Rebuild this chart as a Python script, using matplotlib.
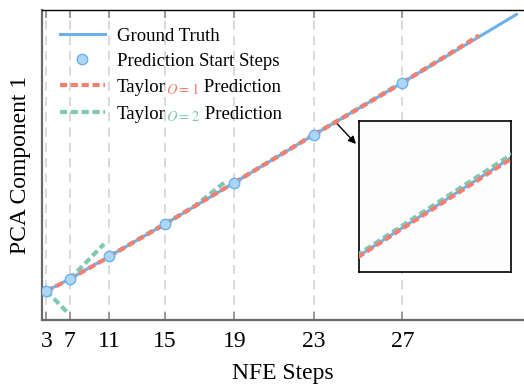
import matplotlib
matplotlib.use("Agg")
import matplotlib.pyplot as plt
from matplotlib.lines import Line2D
from matplotlib.offsetbox import HPacker, TextArea

plt.rcParams["font.family"] = ["Liberation Serif", "DejaVu Serif"]
plt.rcParams["mathtext.fontset"] = "stix"

# NFE steps where a prediction starts
steps = [3, 7, 11, 15, 19, 23, 27]

# ground-truth trajectory in PCA space (last point = end of sampling)
gt_pc0 = [0.43, 2.77, 6.73, 12.30, 19.23, 27.20, 36.03, 47.47]
gt_pc1 = [2.90, 4.10, 6.37, 9.60, 13.73, 18.53, 23.73, 30.57]

# Taylor order 1: predicted end point for each start step
o1_end_pc0 = [2.80, 6.75, 12.30, 19.20, 27.15, 36.00, 43.70]
o1_end_pc1 = [4.08, 6.33, 9.58, 13.72, 18.50, 23.69, 28.43]

# Taylor order 2: mid and end point for each start step
o2_mid_pc0 = [1.45, 4.45, 9.50, 15.30, 23.20, 31.60, 40.00]
o2_mid_pc1 = [1.87, 5.80, 8.00, 11.42, 16.14, 21.15, 26.12]
o2_end_pc0 = [2.47, 6.20, 12.30, 18.30, 27.20, 36.03, 43.70]
o2_end_pc1 = [0.83, 7.60, 9.65, 13.80, 18.57, 23.79, 28.46]

BLUE = "#6BB1EB"
BLUE_FACE = "#AED5F5"
RED = "#F47E72"
GREEN = "#80C7B4"
DASH = (0, (1.7, 0.9))


def draw_traj(a, lw=2.2):
    a.plot(gt_pc0, gt_pc1, color=BLUE, lw=lw, zorder=2, solid_capstyle="round")
    for i in range(len(steps)):
        a.plot([gt_pc0[i], o2_mid_pc0[i], o2_end_pc0[i]],
               [gt_pc1[i], o2_mid_pc1[i], o2_end_pc1[i]],
               color=GREEN, lw=lw + 0.8, ls=DASH, zorder=3)
        a.plot([gt_pc0[i], o1_end_pc0[i]], [gt_pc1[i], o1_end_pc1[i]],
               color=RED, lw=lw + 0.8, ls=DASH, zorder=4)
    a.plot(gt_pc0[:len(steps)], gt_pc1[:len(steps)], ls="none", marker="o",
           ms=7.5, mfc=BLUE_FACE, mec=BLUE, mew=1.0, zorder=5)


fig = plt.figure(figsize=(5.24, 3.85), dpi=100)
ax = fig.add_axes([42 / 524, 65 / 385, 482 / 524, 310 / 385])
draw_traj(ax)

ax.set_xlim(0, 48.2)
ax.set_ylim(0, 31.0)
ax.set_xticks(gt_pc0[:len(steps)])
ax.set_xticklabels([str(s) for s in steps])
ax.set_yticks([])
ax.xaxis.grid(True, color="#cfcfcf", linestyle=(0, (6, 4)), lw=1.1)
ax.set_axisbelow(True)
ax.tick_params(axis="x", direction="in", top=True, length=6, width=1.4,
               color="#9a9a9a", labelsize=17, pad=8)
ax.set_xlabel("NFE Steps", fontsize=17, labelpad=8)
ax.set_ylabel("PCA Component 1", fontsize=17, labelpad=8)

ax.spines["right"].set_visible(False)
ax.spines["top"].set_color("black")
ax.spines["top"].set_linewidth(1.0)
for side in ["left", "bottom"]:
    ax.spines[side].set_color("#6a6a6a")
    ax.spines[side].set_linewidth(1.6)

# legend
handles = [
    Line2D([], [], color=BLUE, lw=2.2),
    Line2D([], [], ls="none", marker="o", ms=7.5, mfc=BLUE_FACE, mec=BLUE),
    Line2D([], [], color=RED, lw=3.0, ls=DASH),
    Line2D([], [], color=GREEN, lw=3.0, ls=DASH),
]
labels = ["Ground Truth", "Prediction Start Steps",
          "Taylor$_{O=1}$ Prediction", "Taylor$_{O=2}$ Prediction"]
leg = ax.legend(handles, labels, loc="upper left", frameon=False,
                fontsize=13.5, handlelength=2.4, handletextpad=0.65,
                labelspacing=0.42, borderaxespad=0.55, numpoints=1)

# colour the subscripts of the Taylor entries
items = leg._legend_handle_box.get_children()[0].get_children()
for idx, order, col in [(2, "1", RED), (3, "2", GREEN)]:
    props = dict(fontproperties=leg.prop, verticalalignment="baseline")
    sub_props = dict(family="Liberation Serif", size=15)
    parts = [TextArea("Taylor", textprops=dict(color="black", **props)),
             TextArea("$_{O=" + order + "}$",
                      textprops=dict(color=col, verticalalignment="baseline",
                                     **sub_props)),
             TextArea(" Prediction", textprops=dict(color="black", **props))]
    box = HPacker(children=parts, align="baseline", pad=0, sep=0)
    box.set_figure(fig)
    items[idx].get_children()[1] = box

# zoomed inset
zoom_x = (28.9, 29.9)
zoom_y = (19.435, 20.344)
axins = fig.add_axes([359 / 524, (385 - 271.7) / 385, 151.7 / 524, 151 / 385])
draw_traj(axins)
axins.set_xlim(*zoom_x)
axins.set_ylim(*zoom_y)
axins.set_xticks([])
axins.set_yticks([])
axins.set_facecolor("#fdfdfd")
for sp in axins.spines.values():
    sp.set_color("black")
    sp.set_linewidth(1.2)

ax.annotate("", xy=(-0.02, 0.846), xycoords=axins.transAxes,
            xytext=(29.47, 19.67), textcoords="data",
            arrowprops=dict(arrowstyle="-|>", color="black", lw=1.0,
                            shrinkA=0, shrinkB=0, mutation_scale=11))

fig.savefig("out.png", dpi=100)
